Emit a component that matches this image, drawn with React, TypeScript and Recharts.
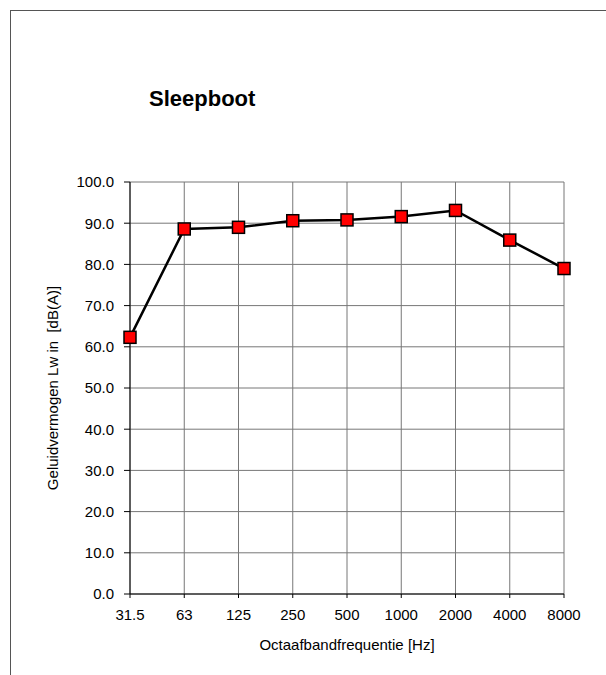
import { CartesianGrid, Line, LineChart, XAxis, YAxis } from "recharts";

const frequencies = ["31.5", "63", "125", "250", "500", "1000", "2000", "4000", "8000"];
const soundPower = [62.3, 88.6, 89.0, 90.6, 90.8, 91.6, 93.1, 85.9, 79.0];
const yTicks = [0, 10, 20, 30, 40, 50, 60, 70, 80, 90, 100];

const data = frequencies.map((name, i) => ({ name, value: soundPower[i] }));

const FONT = "'Liberation Sans', Arial, sans-serif";

function SquareDot(props: any) {
  const { cx, cy, index } = props;
  if (cx == null || cy == null) return null;
  return (
    <rect
      key={`dot-${index}`}
      x={cx - 6}
      y={cy - 6}
      width={12}
      height={12}
      fill="#ff0000"
      stroke="#000"
      strokeWidth={1.5}
    />
  );
}

export default function App() {
  return (
    <div
      style={{
        position: "absolute",
        left: 0,
        top: 0,
        width: 606,
        height: 675,
        background: "#fff",
        fontFamily: FONT,
        overflow: "hidden",
      }}
    >
      <div
        style={{
          position: "absolute",
          left: 10,
          top: 10,
          width: 620,
          height: 700,
          borderTop: "1px solid #555",
          borderLeft: "1px solid #555",
        }}
      />
      <div
        style={{
          position: "absolute",
          left: 149,
          top: 88,
          fontSize: 22,
          lineHeight: "22px",
          fontWeight: "bold",
          color: "#000",
        }}
      >
        Sleepboot
      </div>
      <LineChart
        width={606}
        height={675}
        data={data}
        margin={{ top: 182, right: 42, bottom: 51, left: 70 }}
        style={{ position: "absolute", left: 0, top: 0 }}
      >
        <CartesianGrid stroke="#777" strokeWidth={1} />
        <XAxis
          dataKey="name"
          height={30}
          interval={0}
          tickSize={4}
          tickMargin={11}
          stroke="#000"
          tick={{ fill: "#000", fontSize: 15, fontFamily: FONT }}
          label={{
            value: "Octaafbandfrequentie [Hz]",
            position: "bottom",
            offset: 15,
            fill: "#000",
            fontSize: 15,
            fontFamily: FONT,
          }}
        />
        <YAxis
          width={60}
          domain={[0, 100]}
          ticks={yTicks}
          interval={0}
          tickSize={6}
          tickMargin={10}
          stroke="#000"
          tickFormatter={(v: number) => v.toFixed(1)}
          tick={{ fill: "#000", fontSize: 15, fontFamily: FONT }}
          label={{
            value: "Geluidvermogen Lw in \u00a0[dB(A)]",
            angle: -90,
            position: "insideLeft",
            dx: -22,
            style: { textAnchor: "middle" },
            fill: "#000",
            fontSize: 15,
            fontFamily: FONT,
          }}
        />
        <Line
          type="linear"
          dataKey="value"
          stroke="#000"
          strokeWidth={2.5}
          dot={SquareDot}
          activeDot={false}
          isAnimationActive={false}
        />
      </LineChart>
    </div>
  );
}
